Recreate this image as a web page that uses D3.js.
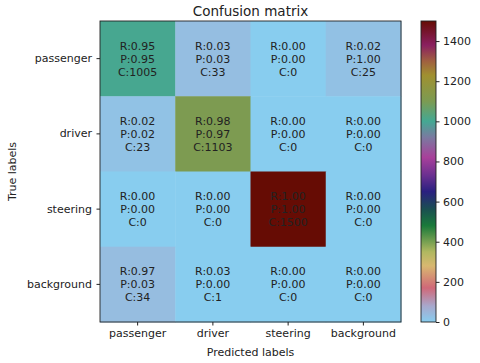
<!DOCTYPE html>
<html>
<head>
<meta charset="utf-8">
<script src="https://cdn.jsdelivr.net/npm/d3@7"></script>
<style>
  body { margin: 0; background: #fff; }
  text { font-family: "DejaVu Sans", sans-serif; fill: #222; }
</style>
</head>
<body>
<div id="chart"></div>
<script>
var labels = ["passenger", "driver", "steering", "background"]

// rows = true label, columns = predicted label
var counts = [
  [1005, 33, 0, 25],
  [23, 1103, 0, 0],
  [0, 0, 1500, 0],
  [34, 1, 0, 0]
]
var recall = [
  [0.95, 0.03, 0.00, 0.02],
  [0.02, 0.98, 0.00, 0.00],
  [0.00, 0.00, 1.00, 0.00],
  [0.97, 0.03, 0.00, 0.00]
]
var precision = [
  [0.95, 0.03, 0.00, 1.00],
  [0.02, 0.97, 0.00, 0.00],
  [0.00, 0.00, 1.00, 0.00],
  [0.03, 0.00, 0.00, 0.00]
]
var colorTicks = [0, 200, 400, 600, 800, 1000, 1200, 1400]

// colormap stops
var stopValues = [0, 80, 170, 280, 350, 480, 560, 650, 730, 820, 920, 1000, 1100, 1230, 1300, 1380, 1500]
var stopColors = ["#88cdef", "#a8a8cc", "#d06878", "#d8b870", "#b0b860", "#1a7a3a", "#1a5050",
  "#2a2080", "#6a3090", "#a8409a", "#7a7aa0", "#44a893", "#7c9b52", "#a09030", "#a06040", "#8a2060", "#660c04"]

var width = 480, height = 363
var margin = {left: 100, top: 21}
var size = 301

var svg = d3.select("#chart").append("svg")
  .attr("width", width)
  .attr("height", height)

var color = d3.scaleLinear()
  .domain(stopValues)
  .range(stopColors)
  .interpolate(d3.interpolateRgb)
  .clamp(true)

var x = d3.scaleBand().domain(labels).range([0, size])
var y = d3.scaleBand().domain(labels).range([0, size])

var g = svg.append("g")
  .attr("transform", "translate(" + margin.left + "," + margin.top + ")")

var cells = []
counts.forEach(function(row, i) {
  row.forEach(function(c, j) {
    cells.push({t: labels[i], p: labels[j], c: c, r: recall[i][j], pr: precision[i][j]})
  })
})

g.selectAll("rect.cell")
  .data(cells)
  .enter()
  .append("rect")
  .attr("class", "cell")
  .attr("x", d => x(d.p))
  .attr("y", d => y(d.t))
  .attr("width", x.bandwidth() + 0.5)
  .attr("height", y.bandwidth() + 0.5)
  .attr("fill", d => color(d.c))

var txt = g.selectAll("text.cell")
  .data(cells)
  .enter()
  .append("text")
  .attr("class", "cell")
  .attr("text-anchor", "middle")
  .attr("font-size", 11)
  .attr("x", d => x(d.p) + x.bandwidth() / 2)
  .attr("y", d => y(d.t) + y.bandwidth() / 2)

txt.append("tspan").attr("x", d => x(d.p) + x.bandwidth() / 2).attr("dy", -9)
  .text(d => "R:" + d.r.toFixed(2))
txt.append("tspan").attr("x", d => x(d.p) + x.bandwidth() / 2).attr("dy", 13)
  .text(d => "P:" + d.pr.toFixed(2))
txt.append("tspan").attr("x", d => x(d.p) + x.bandwidth() / 2).attr("dy", 13)
  .text(d => "C:" + d.c)

g.append("rect")
  .attr("width", size).attr("height", size)
  .attr("fill", "none").attr("stroke", "#222").attr("stroke-width", 0.9)

// axes
var xAxis = g.append("g")
  .attr("transform", "translate(0," + size + ")")
  .call(d3.axisBottom(x).tickSize(3.5).tickPadding(3.5))
var yAxis = g.append("g")
  .call(d3.axisLeft(y).tickSize(3.5).tickPadding(4.5))
;[xAxis, yAxis].forEach(function(a) {
  a.select(".domain").remove()
  a.selectAll("text").attr("font-size", 11).attr("fill", "#222").style("font-family", "DejaVu Sans")
  a.selectAll("line").attr("stroke", "#222")
})

svg.append("text")
  .attr("x", margin.left + size / 2).attr("y", 16)
  .attr("text-anchor", "middle").attr("font-size", 13.5)
  .text("Confusion matrix")

svg.append("text")
  .attr("x", margin.left + size / 2).attr("y", 356)
  .attr("text-anchor", "middle").attr("font-size", 11)
  .text("Predicted labels")

svg.append("text")
  .attr("transform", "translate(16," + (margin.top + size / 2) + ") rotate(-90)")
  .attr("text-anchor", "middle").attr("font-size", 11)
  .text("True labels")

// colorbar
var cbX = 421, cbW = 15
var cy = d3.scaleLinear().domain([0, 1500]).range([margin.top + size, margin.top])

var defs = svg.append("defs")
var grad = defs.append("linearGradient")
  .attr("id", "cbar")
  .attr("x1", 0).attr("y1", 1).attr("x2", 0).attr("y2", 0)
grad.selectAll("stop")
  .data(stopValues)
  .enter()
  .append("stop")
  .attr("offset", d => d / 1500)
  .attr("stop-color", (d, i) => stopColors[i])

svg.append("rect")
  .attr("x", cbX).attr("y", margin.top)
  .attr("width", cbW).attr("height", size)
  .attr("fill", "url(#cbar)")
  .attr("stroke", "#222").attr("stroke-width", 0.9)

var cAxis = svg.append("g")
  .attr("transform", "translate(" + (cbX + cbW) + ",0)")
  .call(d3.axisRight(cy).tickValues(colorTicks).tickFormat(d3.format("d")).tickSize(3.5).tickPadding(3.5))
cAxis.select(".domain").remove()
cAxis.selectAll("text").attr("font-size", 11).attr("fill", "#222").style("font-family", "DejaVu Sans")
cAxis.selectAll("line").attr("stroke", "#222")
</script>
</body>
</html>
